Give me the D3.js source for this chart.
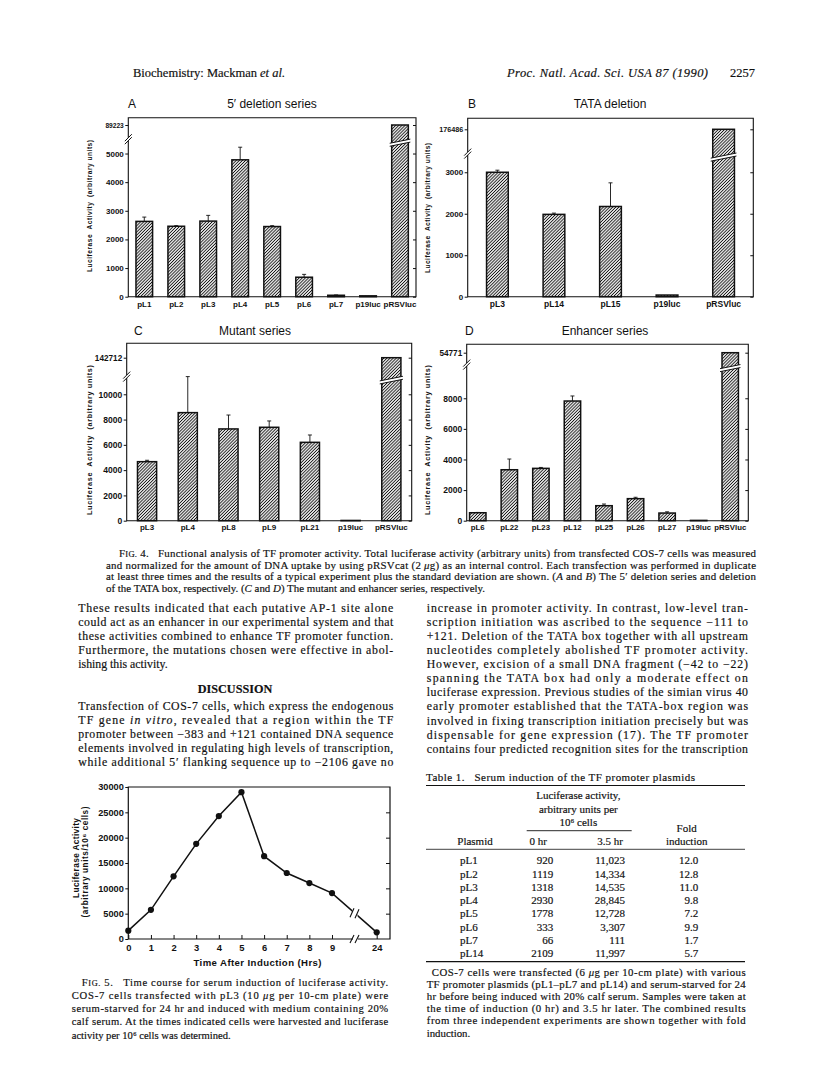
<!DOCTYPE html>
<html>
<head>
<meta charset="utf-8">
<script src="https://cdn.jsdelivr.net/npm/d3@7"></script>
<style>
  body { margin: 0; background: #fff; }
  svg { display: block; background: #fff; }
  .serif { font-family: "Liberation Serif", "Times New Roman", serif; fill: #111; stroke: #111; stroke-width: 0.18px; }
  .sans { font-family: "Liberation Sans", Arial, sans-serif; fill: #111; }
  .tick text { font-family: "Liberation Sans", Arial, sans-serif; font-weight: bold; fill: #111; }
  .tick line { stroke: #111; }
</style>
</head>
<body>
<svg id="page" width="816" height="1082"></svg>
<script>
'use strict';

// ---- Fig. 4A  5' deletion series
const aLabels = ['pL1', 'pL2', 'pL3', 'pL4', 'pL5', 'pL6', 'pL7', 'p19luc', 'pRSVluc'];
const aValues = [2630, 2460, 2640, 4780, 2450, 680, 50, 30, 89223];
const aErrors = [150, 20, 200, 440, 30, 100, 10, 0, 0];
const aTicks = [0, 1000, 2000, 3000, 4000, 5000, 89223];

// ---- Fig. 4B  TATA deletion
const bLabels = ['pL3', 'pL14', 'pL15', 'p19luc', 'pRSVluc'];
const bValues = [3000, 1985, 2175, 40, 176486];
const bErrors = [50, 30, 570, 0, 0];
const bTicks = [0, 1000, 2000, 3000, 176486];

// ---- Fig. 4C  Mutant series
const cLabels = ['pL3', 'pL4', 'pL8', 'pL9', 'pL21', 'p19luc', 'pRSVluc'];
const cValues = [4670, 8550, 7260, 7390, 6200, 20, 142712];
const cErrors = [110, 2850, 1100, 500, 580, 0, 0];
const cTicks = [0, 2000, 4000, 6000, 8000, 10000, 142712];

// ---- Fig. 4D  Enhancer series
const dLabels = ['pL6', 'pL22', 'pL23', 'pL12', 'pL25', 'pL26', 'pL27', 'p19luc', 'pRSVluc'];
const dValues = [520, 3330, 3420, 7820, 980, 1440, 500, 20, 54771];
const dErrors = [20, 700, 60, 330, 110, 90, 80, 0, 0];
const dTicks = [0, 2000, 4000, 6000, 8000, 54771];

// ---- Fig. 5  time course
const hours = [0, 1, 2, 3, 4, 5, 6, 7, 8, 9, 24];
const activity = [1650, 5750, 12370, 18780, 24270, 28970, 16340, 13030, 11045, 9060, 1320];
const hourTicks = [0, 1, 2, 3, 4, 5, 6, 7, 8, 9, 24];
const activityTicks = [0, 5000, 10000, 15000, 20000, 25000, 30000];

// ---- Table 1
const tablePlasmids = ['pL1', 'pL2', 'pL3', 'pL4', 'pL5', 'pL6', 'pL7', 'pL14'];
const table0hr = [920, 1119, 1318, 2930, 1778, 333, 66, 2109];
const table35hr = [11023, 14334, 14535, 28845, 12728, 3307, 111, 11997];
const tableFold = [12.0, 12.8, 11.0, 9.8, 7.2, 9.9, 1.7, 5.7];

const ink = '#111';
const svg = d3.select('#page');

svg.append('defs').append('pattern')
  .attr('id', 'hatch')
  .attr('patternUnits', 'userSpaceOnUse')
  .attr('width', 2.2).attr('height', 2.2)
  .attr('patternTransform', 'rotate(45)')
  .append('line')
  .attr('x1', 1.1).attr('y1', -1).attr('x2', 1.1).attr('y2', 4)
  .attr('stroke', ink).attr('stroke-width', 0.95);

// text with *italic* pieces and small-cap FIG.
function rich(t, str) {
  str.split('*').forEach((seg, i) => {
    seg.split(/(FIG\.)/).forEach((p) => {
      if (!p) return;
      const it = i % 2 ? 'italic' : null;
      if (p === 'FIG.') {
        t.append('tspan').attr('font-style', it).text('F');
        t.append('tspan').attr('font-size', '78%').text('IG.');
      } else {
        t.append('tspan').attr('font-style', it).text(p);
      }
    });
  });
}

// justified block of lines (textLength does the spreading)
function textBlock(lines, o) {
  const g = svg.append('g').attr('class', 'serif').attr('font-size', o.size);
  lines.forEach((ln, i) => {
    const x0 = o.x + (i === 0 && o.indent ? o.indent : 0);
    const t = g.append('text')
      .attr('x', x0)
      .attr('y', o.y + i * o.lh)
      .style('white-space', 'pre');
    if (!(o.ragged || []).includes(i)) {
      t.attr('textLength', o.x + o.width - x0).attr('lengthAdjust', 'spacing');
    }
    rich(t, ln);
  });
}

// ---------------- running head
svg.append('text').attr('class', 'serif').attr('font-size', 12.5)
  .attr('x', 133).attr('y', 77)
  .call((t) => rich(t, 'Biochemistry: Mackman *et al.*'));
svg.append('text').attr('class', 'serif').attr('font-size', 12.5)
  .attr('font-style', 'italic')
  .attr('x', 507).attr('y', 77).attr('textLength', 201).attr('lengthAdjust', 'spacing')
  .text('Proc. Natl. Acad. Sci. USA 87 (1990)');
svg.append('text').attr('class', 'serif').attr('font-size', 12.5)
  .attr('x', 755).attr('y', 77).attr('text-anchor', 'end')
  .text('2257');

// ---------------- Fig. 4 panels
const panels = [
  { letter: 'A', title: '5\u2032 deletion series', labels: aLabels, values: aValues, errors: aErrors, ticks: aTicks,
    left: 128.3, right: 416, top: 117.7, bottom: 296.7, breakVal: 5500, breakY: 139.2, topY: 125,
    band: [128.3, 416], padIn: 0.48, padOut: 0.24, letterX: 128, titleX: 272, titleY: 108,
    ytX: 90, ytY: 206, ytLen: 132, ytSize: 6.6, labelY: 307, labelSize: 8, tickSize: 8, topTickSize: 6.6 },
  { letter: 'B', title: 'TATA deletion', labels: bLabels, values: bValues, errors: bErrors, ticks: bTicks,
    left: 467.7, right: 753.3, top: 118.3, bottom: 296.7, breakVal: 3450, breakY: 153.6, topY: 129.3,
    band: [468, 753], padIn: 0.616, padOut: 0.328, letterX: 468, titleX: 610, titleY: 108,
    ytX: 428, ytY: 208, ytLen: 130, ytSize: 6.6, labelY: 307, labelSize: 8.5, tickSize: 8, topTickSize: 7.2 },
  { letter: 'C', title: 'Mutant series', labels: cLabels, values: cValues, errors: cErrors, ticks: cTicks,
    left: 126.7, right: 411.7, top: 343.3, bottom: 520.7, breakVal: 11400, breakY: 376.6, topY: 357.7,
    band: [126.7, 411.7], padIn: 0.53, padOut: 0.265, letterX: 134, titleX: 255, titleY: 335,
    ytX: 89, ytY: 440, ytLen: 150, ytSize: 7.2, labelY: 530, labelSize: 8, tickSize: 8.5, topTickSize: 8.2 },
  { letter: 'D', title: 'Enhancer series', labels: dLabels, values: dValues, errors: dErrors, ticks: dTicks,
    left: 466.7, right: 748.3, top: 344.3, bottom: 520.7, breakVal: 10200, breakY: 364.6, topY: 352.7,
    band: [462, 746], padIn: 0.48, padOut: 0.24, letterX: 465, titleX: 605, titleY: 335,
    ytX: 427, ytY: 440, ytLen: 150, ytSize: 7.2, labelY: 530, labelSize: 7.8, tickSize: 8.5, topTickSize: 8.2 },
];

panels.forEach((p) => {
  const g = svg.append('g');
  const top = p.ticks[p.ticks.length - 1];
  const x = d3.scaleBand().domain(p.labels).range(p.band).paddingInner(p.padIn).paddingOuter(p.padOut);
  // polylinear scale: linear part below the break, squeezed part up to the big control value
  const y = d3.scaleLinear().domain([0, p.breakVal, top]).range([p.bottom, p.breakY, p.topY]);

  g.append('text').attr('class', 'sans').attr('font-size', 12)
    .attr('x', p.letterX).attr('y', p.titleY).text(p.letter);
  g.append('text').attr('class', 'sans').attr('font-size', 12)
    .attr('x', p.titleX).attr('y', p.titleY).attr('text-anchor', 'middle').text(p.title);

  // bars
  g.append('g').selectAll('rect')
    .data(p.values)
    .join('rect')
    .attr('x', (d, i) => x(p.labels[i]))
    .attr('width', x.bandwidth())
    .attr('y', (d) => y(d))
    .attr('height', (d) => p.bottom - y(d))
    .attr('fill', 'url(#hatch)')
    .attr('stroke', ink)
    .attr('stroke-width', 1.5);

  // error bars (upper half only)
  const eb = g.append('g').attr('stroke', ink).attr('stroke-width', 0.9);
  p.values.forEach((v, i) => {
    if (!p.errors[i]) return;
    const cx = x(p.labels[i]) + x.bandwidth() / 2;
    eb.append('line').attr('x1', cx).attr('x2', cx).attr('y1', y(v)).attr('y2', y(v + p.errors[i]));
    eb.append('line').attr('x1', cx - 2).attr('x2', cx + 2).attr('y1', y(v + p.errors[i])).attr('y2', y(v + p.errors[i]));
  });

  // break across the tall control bar
  p.values.forEach((v, i) => {
    if (v <= p.breakVal) return;
    const x0 = x(p.labels[i]) - 2;
    const x1 = x(p.labels[i]) + x.bandwidth() + 2;
    const s = 0.2 * (x1 - x0);
    const by = p.breakY + 2;
    g.append('path')
      .attr('d', `M${x0},${by + s / 2}L${x1},${by - s / 2}L${x1},${by - s / 2 + 3}L${x0},${by + s / 2 + 3}Z`)
      .attr('fill', '#fff').attr('stroke', 'none');
    g.append('path')
      .attr('d', `M${x0},${by + s / 2}L${x1},${by - s / 2}M${x0},${by + s / 2 + 3}L${x1},${by - s / 2 + 3}`)
      .attr('stroke', ink).attr('stroke-width', 1);
  });

  // frame, with a gap on the left axis
  g.append('path')
    .attr('d', `M${p.left},${p.breakY - 1.5}L${p.left},${p.top}L${p.right},${p.top}L${p.right},${p.bottom}` +
      `L${p.left},${p.bottom}L${p.left},${p.breakY + 1.5}`)
    .attr('fill', 'none').attr('stroke', ink).attr('stroke-width', 1.1);
  g.append('path')
    .attr('d', `M${p.left - 3.5},${p.breakY + 2}L${p.left + 3.5},${p.breakY - 5}` +
      `M${p.left - 3.5},${p.breakY + 5}L${p.left + 3.5},${p.breakY - 2}`)
    .attr('stroke', ink).attr('stroke-width', 1);

  // y axis
  const ya = g.append('g').attr('transform', `translate(${p.left},0)`)
    .call(d3.axisLeft(y).tickValues(p.ticks).tickFormat(d3.format('d')).tickSize(3).tickPadding(1.5));
  ya.select('.domain').remove();
  ya.attr('font-size', null).attr('font-family', null);
  ya.selectAll('.tick text').attr('font-size', (d) => (d === top ? p.topTickSize : p.tickSize));
  const yr = g.append('g').attr('transform', `translate(${p.right},0)`)
    .call(d3.axisRight(y).tickValues(p.ticks).tickFormat('').tickSize(-3));
  yr.select('.domain').remove();

  // x labels
  const xa = g.append('g').attr('transform', `translate(0,${p.bottom})`)
    .call(d3.axisBottom(x).tickSize(0).tickPadding(p.labelY - p.bottom - p.labelSize * 0.72));
  xa.select('.domain').remove();
  xa.attr('font-size', null).attr('font-family', null);
  xa.selectAll('.tick text').attr('font-size', p.labelSize);

  g.append('text').attr('class', 'sans').attr('font-weight', 'bold').attr('font-size', p.ytSize)
    .attr('transform', `translate(${p.ytX + p.ytSize * 0.35},${p.ytY}) rotate(-90)`)
    .attr('text-anchor', 'middle')
    .attr('textLength', p.ytLen).attr('lengthAdjust', 'spacing')
    .style('white-space', 'pre')
    .text('Luciferase  Activity  (arbitrary units)');
});

// ---------------- Fig. 4 legend
textBlock([
  'FIG. 4.   Functional analysis of TF promoter activity. Total luciferase activity (arbitrary units) from transfected COS-7 cells was measured',
  'and normalized for the amount of DNA uptake by using pRSVcat (2 *\u03bc*g) as an internal control. Each transfection was performed in duplicate',
  'at least three times and the results of a typical experiment plus the standard deviation are shown. (*A* and *B*) The 5\u2032 deletion series and deletion',
  'of the TATA box, respectively. (*C* and *D*) The mutant and enhancer series, respectively.',
], { x: 106, y: 557, lh: 11.7, width: 650, size: 10.9, indent: 13, ragged: [3] });

// ---------------- body text, left column
textBlock([
  'These results indicated that each putative AP-1 site alone',
  'could act as an enhancer in our experimental system and that',
  'these activities combined to enhance TF promoter function.',
  'Furthermore, the mutations chosen were effective in abol-',
  'ishing this activity.',
], { x: 78.3, y: 612, lh: 14.1, width: 315, size: 11.8, ragged: [4] });

svg.append('text').attr('class', 'serif').attr('font-size', 12.2).attr('font-weight', 'bold')
  .attr('x', 235).attr('y', 693).attr('text-anchor', 'middle').text('DISCUSSION');

textBlock([
  'Transfection of COS-7 cells, which express the endogenous',
  'TF gene *in vitro*, revealed that a region within the TF',
  'promoter between \u2212383 and +121 contained DNA sequence',
  'elements involved in regulating high levels of transcription,',
  'while additional 5\u2032 flanking sequence up to \u22122106 gave no',
], { x: 78.3, y: 709.5, lh: 14.1, width: 315, size: 11.8 });

// ---------------- body text, right column
textBlock([
  'increase in promoter activity. In contrast, low-level tran-',
  'scription initiation was ascribed to the sequence \u2212111 to',
  '+121. Deletion of the TATA box together with all upstream',
  'nucleotides completely abolished TF promoter activity.',
  'However, excision of a small DNA fragment (\u221242 to \u221222)',
  'spanning the TATA box had only a moderate effect on',
  'luciferase expression. Previous studies of the simian virus 40',
  'early promoter established that the TATA-box region was',
  'involved in fixing transcription initiation precisely but was',
  'dispensable for gene expression (17). The TF promoter',
  'contains four predicted recognition sites for the transcription',
], { x: 426.7, y: 612, lh: 14.07, width: 321.3, size: 11.8 });

// ---------------- Fig. 5
const f5 = svg.append('g');
const fL = 128.3, fR = 390, fT = 787, fB = 939;
const fx = d3.scaleLinear().domain([0, 9, 24]).range([128.3, 332, 376.7]);
const fy = d3.scaleLinear().domain([0, 30000]).range([fB, fT]);

f5.append('path')
  .attr('d', `M353,${fB}L${fL},${fB}L${fL},${fT}L${fR},${fT}L${fR},${fB}L358,${fB}`)
  .attr('fill', 'none').attr('stroke', ink).attr('stroke-width', 1.2);
f5.append('path')
  .attr('d', `M350,${fB + 4}L354,${fB - 4}M355,${fB + 4}L359,${fB - 4}`)
  .attr('stroke', ink).attr('stroke-width', 1.1);

const fxa = f5.append('g').attr('transform', `translate(0,${fB})`)
  .call(d3.axisBottom(fx).tickValues(hourTicks).tickFormat(d3.format('d')).tickSize(-4).tickPadding(5));
fxa.select('.domain').remove();
fxa.attr('font-size', null).attr('font-family', null);
fxa.selectAll('.tick text').attr('font-size', 9.4);

const fya = f5.append('g').attr('transform', `translate(${fL},0)`)
  .call(d3.axisLeft(fy).tickValues(activityTicks).tickFormat(d3.format('d')).tickSize(3).tickPadding(1.5));
fya.select('.domain').remove();
fya.attr('font-size', null).attr('font-family', null);
fya.selectAll('.tick text').attr('font-size', 9.2);

const fyr = f5.append('g').attr('transform', `translate(${fR},0)`)
  .call(d3.axisRight(fy).tickValues(activityTicks.slice(1, -1)).tickFormat('').tickSize(-4));
fyr.select('.domain').remove();

const pts = hours.map((h, i) => [fx(h), fy(activity[i])]);
f5.append('path')
  .attr('d', d3.line()(pts))
  .attr('fill', 'none').attr('stroke', ink).attr('stroke-width', 1.5);

// break on the 9 -> 24 h segment
const bx = 355;
const bt = (bx - pts[9][0]) / (pts[10][0] - pts[9][0]);
const byy = pts[9][1] + bt * (pts[10][1] - pts[9][1]);
f5.append('rect').attr('x', bx - 2.5).attr('y', byy - 4).attr('width', 5).attr('height', 8).attr('fill', '#fff');
f5.append('path')
  .attr('d', `M${bx - 5},${byy + 4}L${bx - 1},${byy - 5}M${bx},${byy + 5}L${bx + 4},${byy - 4}`)
  .attr('stroke', ink).attr('stroke-width', 1.1);

f5.append('g').selectAll('circle')
  .data(pts)
  .join('circle')
  .attr('cx', (d) => d[0]).attr('cy', (d) => d[1]).attr('r', 3.1)
  .attr('fill', ink);

f5.append('text').attr('class', 'sans').attr('font-weight', 'bold').attr('font-size', 9.6)
  .attr('x', 257.5).attr('y', 966).attr('text-anchor', 'middle')
  .attr('textLength', 128).attr('lengthAdjust', 'spacing')
  .text('Time After Induction (Hrs)');
f5.append('text').attr('class', 'sans').attr('font-weight', 'bold').attr('font-size', 8.4)
  .attr('transform', 'translate(78.6,858) rotate(-90)').attr('text-anchor', 'middle')
  .attr('textLength', 80).attr('lengthAdjust', 'spacing')
  .text('Luciferase Activity');
f5.append('text').attr('class', 'sans').attr('font-weight', 'bold').attr('font-size', 8.2)
  .attr('transform', 'translate(88,862) rotate(-90)').attr('text-anchor', 'middle')
  .attr('textLength', 111).attr('lengthAdjust', 'spacing')
  .text('(arbitrary units/10\u2076 cells)');

textBlock([
  'FIG. 5.   Time course for serum induction of luciferase activity.',
  'COS-7 cells transfected with pL3 (10 *\u03bc*g per 10-cm plate) were',
  'serum-starved for 24 hr and induced with medium containing 20%',
  'calf serum. At the times indicated cells were harvested and luciferase',
  'activity per 10\u2076 cells was determined.',
], { x: 71.7, y: 985.5, lh: 13.3, width: 316.5, size: 10.6, indent: 10, ragged: [4] });

// ---------------- Table 1
const tb = svg.append('g').attr('class', 'serif').attr('font-size', 11);
tb.append('text').attr('x', 426).attr('y', 781).style('white-space', 'pre')
  .attr('textLength', 269).attr('lengthAdjust', 'spacing')
  .text('Table 1.   Serum induction of the TF promoter plasmids');
const rule = (x1, x2, yy, w) => tb.append('line').attr('x1', x1).attr('x2', x2).attr('y1', yy).attr('y2', yy)
  .attr('stroke', ink).attr('stroke-width', w);
rule(426, 745, 785.5, 1.1);
rule(526.7, 631.7, 830.7, 0.9);
rule(426, 745, 849.3, 0.8);
rule(426, 745, 961.7, 1.2);

[['Luciferase activity,', 798.8], ['arbitrary units per', 812.8], ['10\u2076 cells', 826]].forEach(([s, yy]) => {
  tb.append('text').attr('x', 578.3).attr('y', yy).attr('text-anchor', 'middle').text(s);
});
tb.append('text').attr('x', 686.7).attr('y', 832).attr('text-anchor', 'middle').text('Fold');
[['Plasmid', 475], ['0 hr', 538.3], ['3.5 hr', 610], ['induction', 686.7]].forEach(([s, xx]) => {
  tb.append('text').attr('x', xx).attr('y', 845).attr('text-anchor', 'middle').text(s);
});

const rowY = d3.scalePoint().domain(tablePlasmids).range([864.4, 957.2]);
tb.append('g').selectAll('text').data(tablePlasmids).join('text')
  .attr('x', 460).attr('y', (d) => rowY(d)).text((d) => d);
tb.append('g').selectAll('text').data(table0hr).join('text')
  .attr('x', 553.3).attr('y', (d, i) => rowY(tablePlasmids[i])).attr('text-anchor', 'end').text((d) => d);
tb.append('g').selectAll('text').data(table35hr).join('text')
  .attr('x', 625).attr('y', (d, i) => rowY(tablePlasmids[i])).attr('text-anchor', 'end')
  .text((d) => d3.format(',')(d));
tb.append('g').selectAll('text').data(tableFold).join('text')
  .attr('x', 698.3).attr('y', (d, i) => rowY(tablePlasmids[i])).attr('text-anchor', 'end')
  .text((d) => d3.format('.1f')(d));

textBlock([
  'COS-7 cells were transfected (6 *\u03bc*g per 10-cm plate) with various',
  'TF promoter plasmids (pL1\u2013pL7 and pL14) and serum-starved for 24',
  'hr before being induced with 20% calf serum. Samples were taken at',
  'the time of induction (0 hr) and 3.5 hr later. The combined results',
  'from three independent experiments are shown together with fold',
  'induction.',
], { x: 426.7, y: 975.5, lh: 12.2, width: 319, size: 10.8, indent: 5, ragged: [5] });
</script>
</body>
</html>
